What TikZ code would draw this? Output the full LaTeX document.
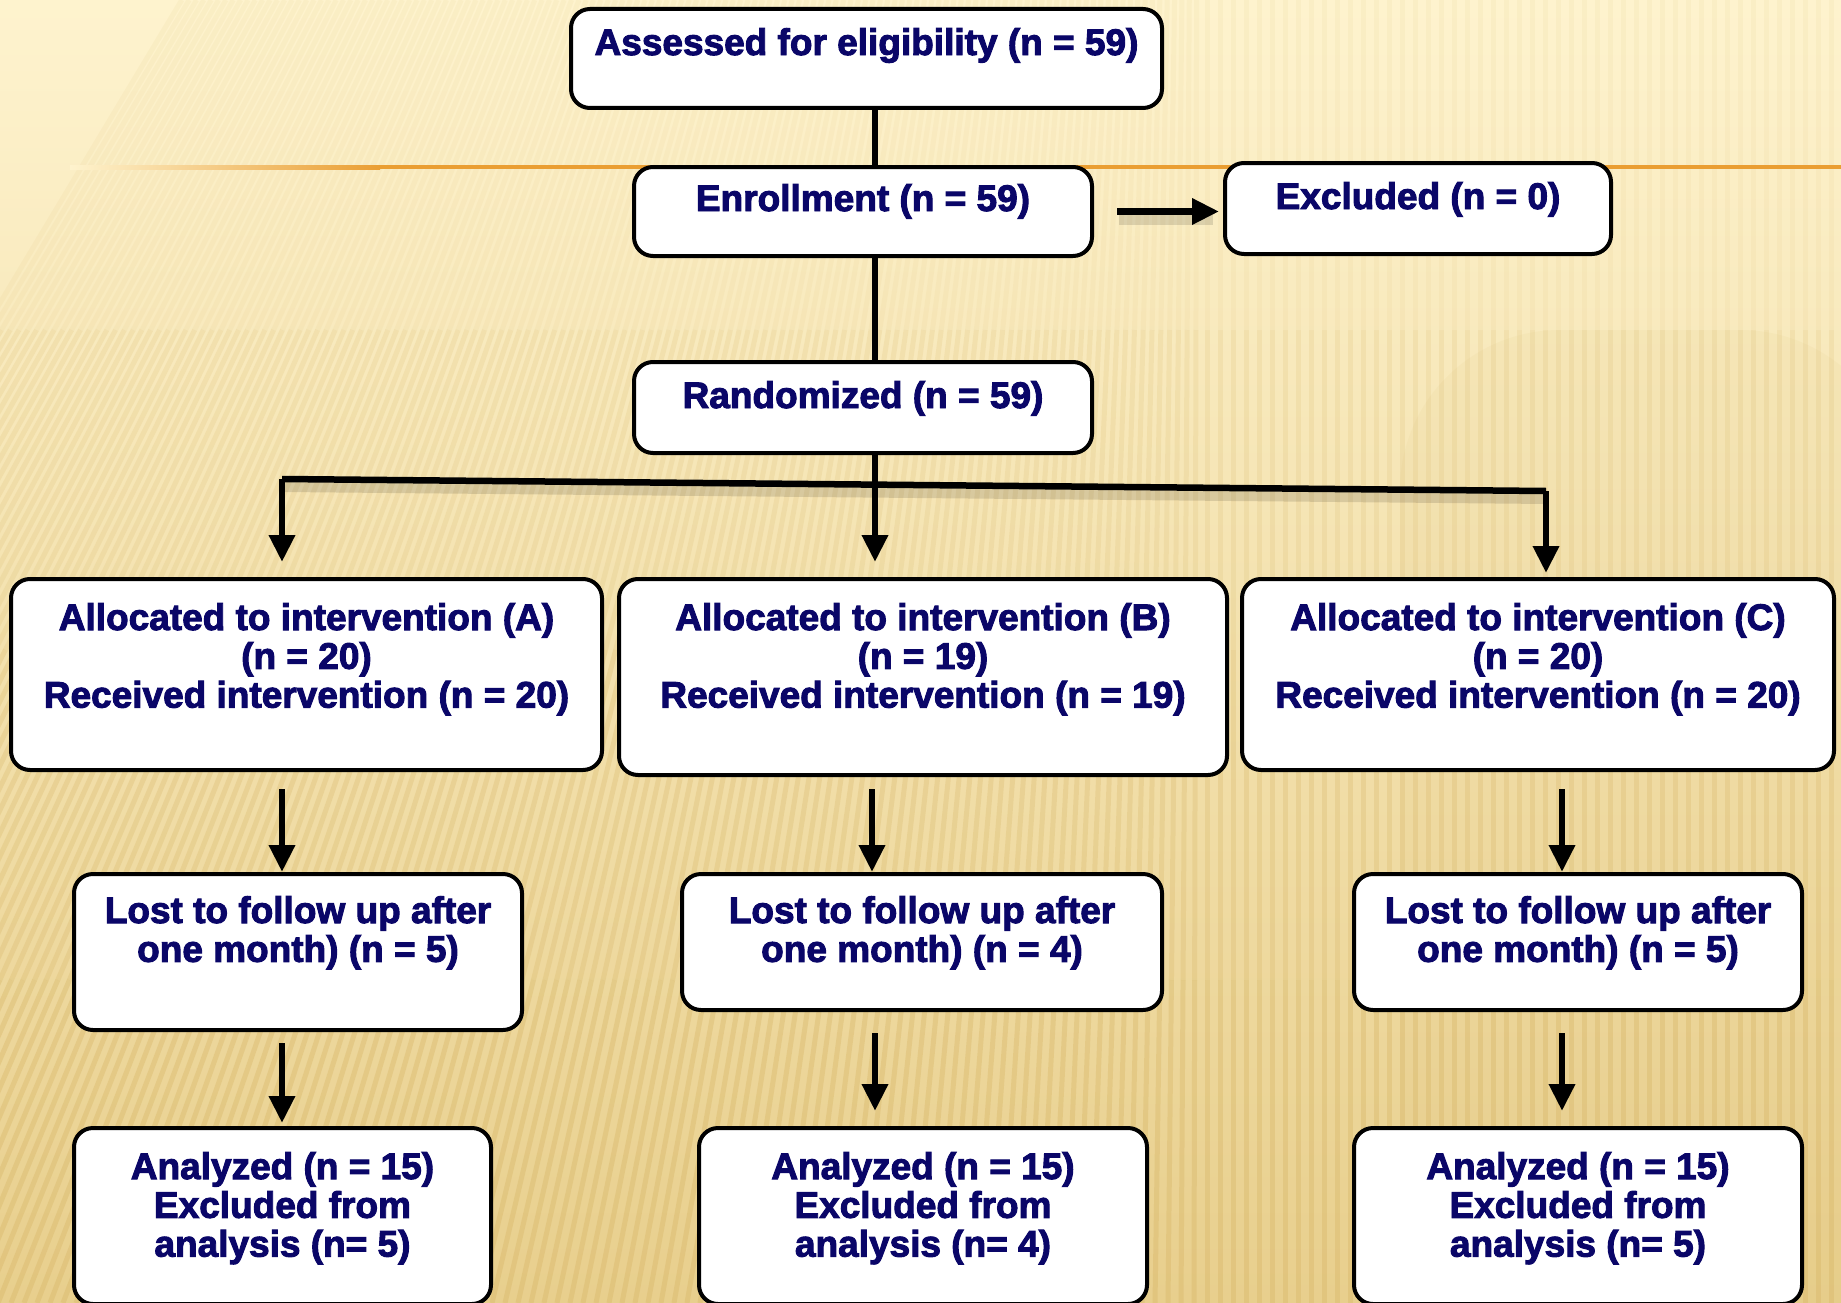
\documentclass[tikz,border=0pt]{standalone}
\usepackage{fontspec}
\setmainfont{Liberation Sans}[BoldFeatures={FakeBold=2.6}]
\usetikzlibrary{arrows.meta,calc}
\definecolor{navy}{RGB}{10,6,104}
\definecolor{bgtop}{RGB}{254,243,206}
\definecolor{bgmid}{RGB}{251,235,188}
\definecolor{bgbot}{RGB}{232,207,141}
\definecolor{stripec}{RGB}{214,180,100}
\definecolor{orangec}{RGB}{234,158,50}
\begin{document}
\begin{tikzpicture}[x=1pt,y=-1pt,
  box/.style={draw=black, line width=4pt, fill=white, rounded corners=19pt, inner sep=0pt},
  txt/.style={text=navy, font=\fontsize{37}{38.8}\selectfont\bfseries, align=center, inner sep=0pt, anchor=north},
  conn/.style={line width=6.5pt, draw=black},
  arr/.style={conn, -{Triangle[width=25pt,length=27pt]}},
  shd/.style={line width=10pt, draw=black, opacity=0.12, transform canvas={shift={(2pt,-8pt)}}}]
\useasboundingbox (0,0) rectangle (1841,1303);
% background
\shade[top color=bgtop, middle color=bgmid, bottom color=bgbot] (0,0) rectangle (1841,1303);
\fill[stripec, opacity=0.07, rounded corners=160pt] (1400,330) rectangle (1900,1400);
\foreach \xb in {-600,-587,...,1850}{
  \pgfmathsetmacro\lean{max(0,0.4*(1200-\xb)/1200)}
  \foreach \ya/\yb/\op in {1303/980/0.36, 980/650/0.27, 650/330/0.17, 330/0/0.08}{
    \draw[line width=5pt, stripec, opacity=\op] ({\xb+\lean*(1303-\ya)},\ya) -- ({\xb+\lean*(1303-\yb)},\yb);
  }
}
% orange rule
\shade[left color=bgtop, right color=orangec] (70,165) rectangle (380,169);
\fill[orangec] (380,165) rectangle (1841,169);
% coordinates for connector columns
\coordinate (spine) at (875,0);
\coordinate (colA) at (282,0);
\coordinate (colB) at (872,0);
\coordinate (colBb) at (875,0);
\coordinate (colCb) at (1562,0);
\coordinate (brL) at (282,479);
\coordinate (brR) at (1546,491);
% boxes
\node[box, minimum width=591pt, minimum height=99pt] (assess) at (866.5,58.5) {};
\node[box, minimum width=458pt, minimum height=89pt] (enroll) at (863,211.5) {};
\node[box, minimum width=386pt, minimum height=91pt] (excl) at (1418,208.5) {};
\node[box, minimum width=458pt, minimum height=91pt] (rand) at (863,407.5) {};
\node[box, minimum width=591pt, minimum height=191pt] (allocA) at (306.5,674.5) {};
\node[box, minimum width=608pt, minimum height=196pt] (allocB) at (923,677) {};
\node[box, minimum width=592pt, minimum height=191pt] (allocC) at (1538,674.5) {};
\node[box, minimum width=448pt, minimum height=156pt] (lostA) at (298,952) {};
\node[box, minimum width=480pt, minimum height=136pt] (lostB) at (922,942) {};
\node[box, minimum width=448pt, minimum height=136pt] (lostC) at (1578,942) {};
\node[box, minimum width=417pt, minimum height=176pt] (anaA) at (282.5,1216) {};
\node[box, minimum width=448pt, minimum height=176pt] (anaB) at (923,1216) {};
\node[box, minimum width=448pt, minimum height=176pt] (anaC) at (1578,1216) {};
% texts
\node[txt] (assessT) at ($(assess.north)+(0,21)$) {Assessed for eligibility (n = 59)};
\node[txt] (enrollT) at ($(enroll.north)+(0,19)$) {Enrollment (n = 59)};
\node[txt] (exclT) at ($(excl.north)+(0,21)$) {Excluded (n = 0)};
\node[txt] (randT) at ($(rand.north)+(0,21)$) {Randomized (n = 59)};
\node[txt] (allocAT) at ($(allocA.north)+(0,26)$) {Allocated to intervention (A)\\(n = 20)\\Received intervention (n = 20)};
\node[txt] (allocBT) at ($(allocB.north)+(0,26)$) {Allocated to intervention (B)\\(n = 19)\\Received intervention (n = 19)};
\node[txt] (allocCT) at ($(allocC.north)+(0,26)$) {Allocated to intervention (C)\\(n = 20)\\Received intervention (n = 20)};
\node[txt] (lostAT) at ($(lostA.north)+(0,24)$) {Lost to follow up after\\one month) (n = 5)};
\node[txt] (lostBT) at ($(lostB.north)+(0,24)$) {Lost to follow up after\\one month) (n = 4)};
\node[txt] (lostCT) at ($(lostC.north)+(0,24)$) {Lost to follow up after\\one month) (n = 5)};
\node[txt] (anaAT) at ($(anaA.north)+(0,26)$) {Analyzed (n = 15)\\Excluded from\\analysis (n= 5)};
\node[txt] (anaBT) at ($(anaB.north)+(0,26)$) {Analyzed (n = 15)\\Excluded from\\analysis (n= 4)};
\node[txt] (anaCT) at ($(anaC.north)+(0,26)$) {Analyzed (n = 15)\\Excluded from\\analysis (n= 5)};
% connector shadows
\draw[shd] (brL) -- (brR);
\draw[shd] ([xshift=23]enroll.east) -- ([xshift=-12]excl.west |- enroll.east);
% connectors
\draw[conn] (assess.south -| spine) -- (enroll.north -| spine);
\draw[conn] (enroll.south -| spine) -- (rand.north -| spine);
\draw[arr, shorten >=15pt] (rand.south -| spine) -- (allocB.north -| spine);
\draw[conn] (brL) -- (brR);
\draw[arr, shorten >=15pt] (brL) -- (allocA.north -| brL);
\draw[arr, shorten >=4pt] (brR) -- (allocC.north -| brR);
\draw[arr] ([yshift=-17]allocA.south -| colA) -- (lostA.north -| colA);
\draw[arr] ([yshift=-12]allocB.south -| colB) -- (lostB.north -| colB);
\draw[arr] ([yshift=-17]allocC.south -| colCb) -- (lostC.north -| colCb);
\draw[arr, shorten >=3pt] ([yshift=-11]lostA.south -| colA) -- (anaA.north -| colA);
\draw[arr, shorten >=15pt] ([yshift=-21]lostB.south -| colBb) -- (anaB.north -| colBb);
\draw[arr, shorten >=15pt] ([yshift=-21]lostC.south -| colCb) -- (anaC.north -| colCb);
\draw[arr, shorten >=4pt] ([xshift=23]enroll.east) -- (excl.west |- enroll.east);
\end{tikzpicture}
\end{document}
